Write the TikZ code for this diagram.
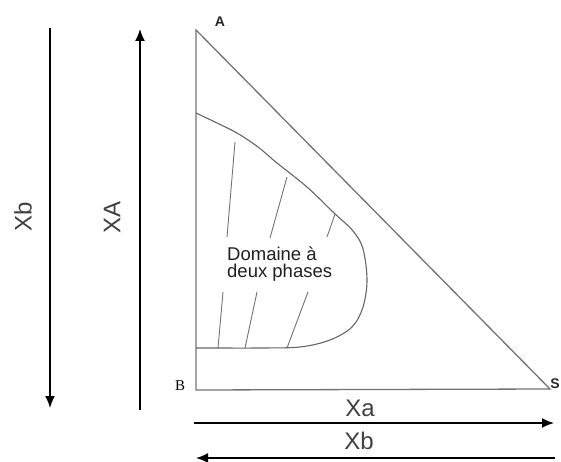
\documentclass[tikz,border=0pt]{standalone}
\usepackage{fontspec}
\setmainfont{Liberation Serif}
\setsansfont{Liberation Sans}
\usetikzlibrary{arrows.meta}
\begin{document}
\begin{tikzpicture}[x=1pt,y=-1pt,
  edge/.style={draw=black!55,line width=1.3pt},
  bino/.style={draw=black!60,line width=1.1pt},
  tie/.style={draw=black!55,line width=0.9pt},
  axis/.style={draw=black,line width=1.7pt},
  tip/.style={-{Latex[length=12pt,width=10pt]}},
  big/.style={font=\sffamily\fontsize{24}{24}\selectfont,text=black!75,draw=none},
  vlab/.style={font=\sffamily\bfseries\fontsize{14}{14}\selectfont,text=black!85}]
\useasboundingbox (0,0) rectangle (561,462);
% triangle
\coordinate (A) at (196,30);
\coordinate (B) at (196,390);
\coordinate (S) at (550,389);
\draw[edge] (A) -- (B) -- (S) -- cycle;
\node[vlab] (lA) at (220,22) {A};
\node[font=\rmfamily\fontsize{15}{15}\selectfont] (lB) at (180,386) {B};
\node[vlab,inner sep=1pt] (lS) at (555,384) {S};
% binodal curve
\draw[bino] plot[smooth,tension=0.55] coordinates {
 (196,113) (217,123) (237,133) (258,147) (277,163) (307,187) (333,212)
 (353,231) (363,249) (367,280) (363,307) (352,327) (330,340) (300,347)
 (257,348) (217,348) (196,348)};
% tie lines
\draw[tie] (235,142) -- (227,237);
\draw[tie] (223,292) -- (218,348);
\draw[tie] (287,177) -- (270,238);
\draw[tie] (257,292) -- (245,348);
\draw[tie] (335,214) -- (327,237);
\draw[tie] (308,292) -- (287,348);
\node[font=\sffamily\fontsize{18.5}{17}\selectfont,align=left,anchor=west,inner sep=0pt,text=black!88] (dom) at (227,264) {Domaine à\\deux phases};
% vertical arrows
\coordinate (xbT) at (50,28);
\coordinate (xbB) at (50,408);
\draw[axis,tip] (xbT) -- (xbB);
\coordinate (xaB) at (140,410);
\coordinate (xaT) at (140,29);
\draw[axis,tip] (xaB) -- (xaT);
\node[big,rotate=90] (lxb) at (23,217) {Xb};
\node[big,rotate=90] (lxa) at (112,217) {XA};
% horizontal arrows
\coordinate (haL) at (194,423);
\coordinate (haR) at (554,423);
\draw[axis,tip] (haL) -- (haR);
\coordinate (hbR) at (555,458);
\coordinate (hbL) at (196,458);
\draw[axis,tip] (hbR) -- (hbL);
\node[big] (lxa2) at (360,408) {Xa};
\node[big] (lxb2) at (359,441) {Xb};
\end{tikzpicture}
\end{document}
